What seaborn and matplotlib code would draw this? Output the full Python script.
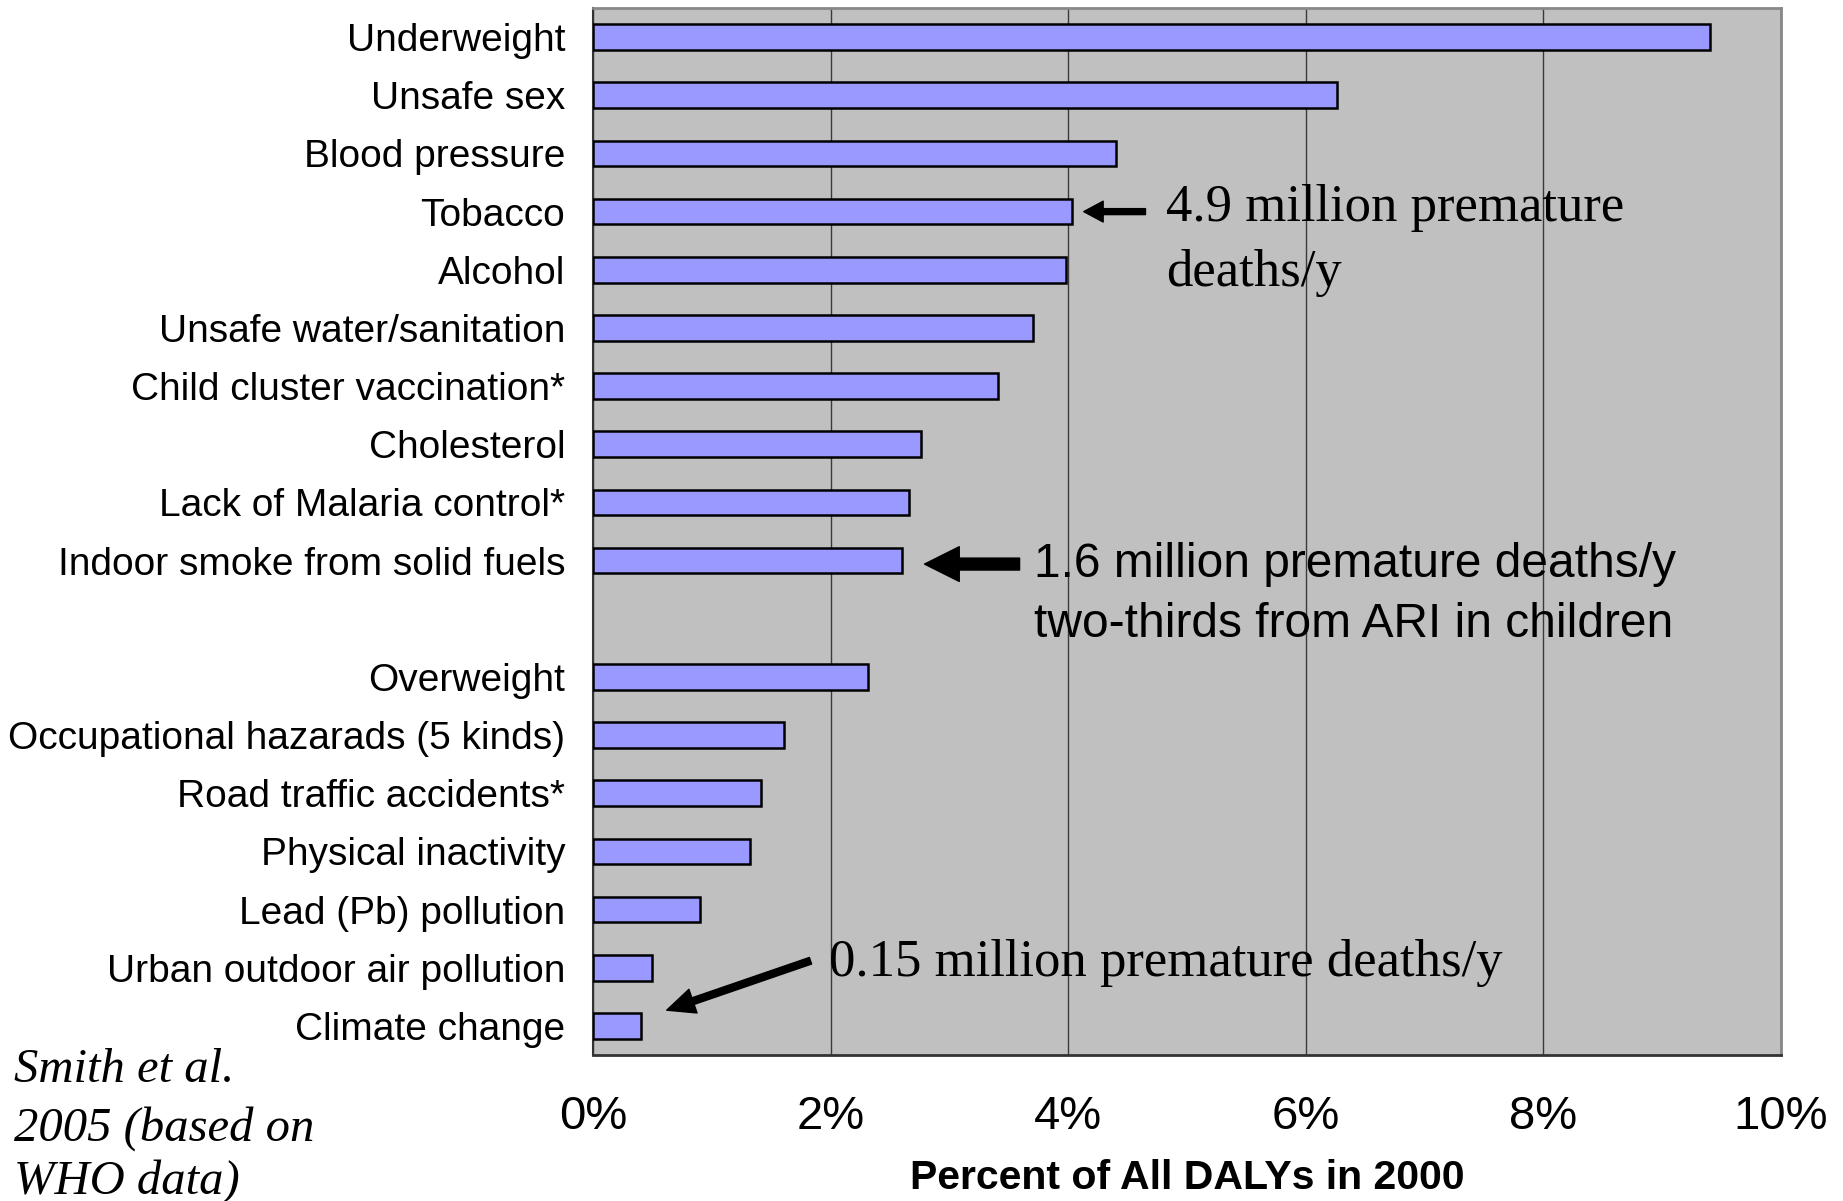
import numpy as np
import pandas as pd
import matplotlib
matplotlib.use("Agg")
import matplotlib.pyplot as plt
import seaborn as sns

# Risk factors and their share of global DALYs (percent), year 2000
top_factors = [
    "Underweight", "Unsafe sex", "Blood pressure", "Tobacco", "Alcohol",
    "Unsafe water/sanitation", "Child cluster vaccination*", "Cholesterol",
    "Lack of Malaria control*", "Indoor smoke from solid fuels",
]
top_values = [9.40, 6.26, 4.40, 4.03, 3.98, 3.70, 3.41, 2.76, 2.66, 2.60]

other_factors = [
    "Overweight", "Occupational hazarads (5 kinds)", "Road traffic accidents*",
    "Physical inactivity", "Lead (Pb) pollution", "Urban outdoor air pollution",
    "Climate change",
]
other_values = [2.31, 1.61, 1.41, 1.32, 0.90, 0.50, 0.40]

gap_label = " "
x_ticks = [0, 2, 4, 6, 8, 10]
x_tick_labels = ["0%", "2%", "4%", "6%", "8%", "10%"]

df = pd.DataFrame({
    "factor": top_factors + other_factors,
    "daly": top_values + other_values,
})
order = top_factors + [gap_label] + other_factors

sns.set_theme(style="white")
plt.rcParams["font.family"] = ["Liberation Sans", "DejaVu Sans"]
plt.rcParams["text.color"] = "black"
plt.rcParams["axes.labelcolor"] = "black"
plt.rcParams["xtick.labelcolor"] = "black"
plt.rcParams["ytick.labelcolor"] = "black"

fig = plt.figure(figsize=(18.43, 12.01), dpi=100)
ax = fig.add_axes([0.3218, 0.1216, 0.6446, 0.8717])

sns.barplot(data=df, x="daly", y="factor", order=order, orient="h",
            color="#9999FF", saturation=1, edgecolor="black", linewidth=1.8,
            width=0.44, ax=ax, zorder=3)

ax.set_facecolor("#C0C0C0")
ax.set_xlim(0, 10)
ax.set_ylim(len(order) - 0.5, -0.5)

ax.set_xticks(x_ticks)
ax.set_xticklabels(x_tick_labels, fontsize=34)
ax.xaxis.grid(True, color="#3a3a3a", linewidth=1.0, zorder=0)
ax.set_axisbelow(True)
ax.tick_params(axis="x", direction="out", length=9, width=1, color="#333333",
               pad=20, labelcolor="black")

ax.set_yticks(range(len(order)))
ax.set_yticklabels(order, fontsize=28)
ax.tick_params(axis="y", which="major", length=0, pad=20, labelcolor="black")
ax.set_yticks(np.arange(-0.5, len(order), 1.0), minor=True)
ax.tick_params(axis="y", which="minor", direction="out", length=7, width=1,
               color="black")

ax.set_ylabel("")
ax.set_xlabel("Percent of All DALYs in 2000", fontsize=29.5, fontweight="bold",
              color="black")
ax.xaxis.set_label_coords(0.5, -0.118)
ax.xaxis.label.set_va("center")

for side in ("top", "right"):
    ax.spines[side].set_color("#888888")
    ax.spines[side].set_linewidth(2)
ax.spines["left"].set_color("#333333")
ax.spines["left"].set_linewidth(1.5)
ax.spines["bottom"].set_color("#333333")
ax.spines["bottom"].set_linewidth(2)

serif = ["Liberation Serif", "DejaVu Serif"]

# Tobacco
ax.annotate("", xy=(4.13, 3.0), xytext=(4.65, 3.0),
            arrowprops=dict(width=4.3, headwidth=15, headlength=14,
                            facecolor="black", edgecolor="black", shrink=0),
            zorder=5)
ax.text(4.82, 2.93, "4.9 million premature", fontsize=38, family=serif,
        color="black", va="center", ha="left", zorder=5)
ax.text(4.82, 4.05, "deaths/y", fontsize=38, family=serif,
        color="black", va="center", ha="left", zorder=5)

# Indoor smoke
ax.annotate("", xy=(2.79, 9.06), xytext=(3.59, 9.06),
            arrowprops=dict(width=8.6, headwidth=25, headlength=25,
                            facecolor="black", edgecolor="black", shrink=0),
            zorder=5)
ax.text(3.71, 9.06, "1.6 million premature deaths/y", fontsize=34.5,
        color="black", va="center", ha="left", zorder=5)
ax.text(3.71, 10.1, "two-thirds from ARI in children", fontsize=34.5,
        color="black", va="center", ha="left", zorder=5)

# Climate change
ax.annotate("", xy=(0.62, 16.73), xytext=(1.83, 15.88),
            arrowprops=dict(width=5, headwidth=18, headlength=20,
                            facecolor="black", edgecolor="black", shrink=0),
            zorder=5)
ax.text(1.99, 15.92, "0.15 million premature deaths/y", fontsize=38,
        family=serif, color="black", va="center", ha="left", zorder=5)

# Source note
for txt, yy in [("Smith et al.", 0.1091), ("2005 (based on", 0.0600),
                ("WHO data)", 0.0158)]:
    fig.text(0.0076, yy, txt, fontsize=35, family=serif, style="italic",
             color="black", va="center", ha="left")

fig.savefig("out.png", dpi=100)
